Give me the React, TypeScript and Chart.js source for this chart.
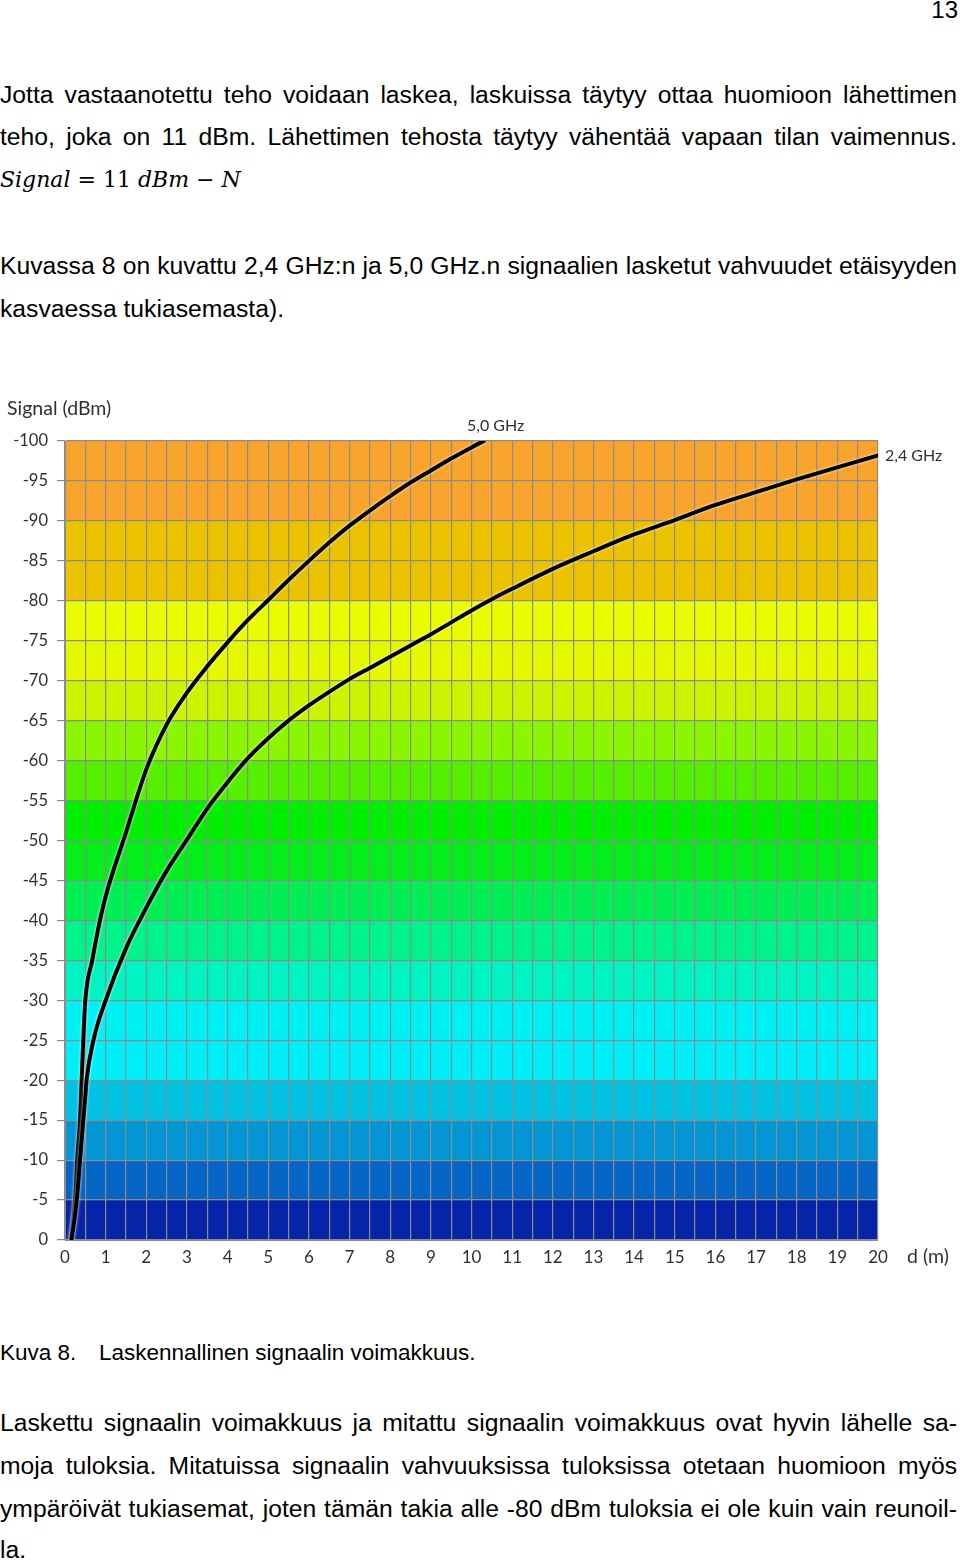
import React, { useEffect, useRef } from 'react';
import { Chart, registerables } from 'chart.js';
Chart.register(...registerables);

// ---- data ----
const distance24 = [0.16, 0.29, 0.37, 0.45, 0.5, 0.53, 0.7, 1.0, 1.5, 2, 2.5, 3, 3.5, 4, 4.5, 5, 5.5, 6, 6.5, 7, 7.5, 8, 8.5, 9, 9.5, 10, 10.5, 11, 12, 13, 14, 15, 16, 17, 18, 19, 20];
const signal24 = [0, -5, -10, -15, -18, -20, -25, -30, -36.5, -41.6, -46.2, -50.1, -54.0, -57.3, -60.3, -62.8, -65.0, -66.9, -68.6, -70.2, -71.6, -73.0, -74.4, -75.8, -77.3, -78.8, -80.2, -81.5, -84.0, -86.2, -88.3, -90.1, -92.0, -93.6, -95.2, -96.7, -98.2];
const distance50 = [0.15, 0.25, 0.3, 0.37, 0.41, 0.45, 0.5, 0.67, 0.86, 1, 1.5, 2, 2.5, 3, 3.5, 4, 4.5, 5, 5.5, 6, 6.5, 7, 7.5, 8, 8.5, 9, 9.5, 10, 10.3];
const signal50 = [0, -5, -10, -15, -20, -25, -30, -35, -40, -43, -51, -58.9, -64.5, -68.5, -71.8, -74.8, -77.6, -80.1, -82.6, -85.0, -87.3, -89.4, -91.3, -93.1, -94.8, -96.3, -97.8, -99.2, -100];
const seriesNames = ['2,4 GHz', '5,0 GHz'];
const xTickLabels = ['0', '1', '2', '3', '4', '5', '6', '7', '8', '9', '10', '11', '12', '13', '14', '15', '16', '17', '18', '19', '20'];
const yTickValues = [-100, -95, -90, -85, -80, -75, -70, -65, -60, -55, -50, -45, -40, -35, -30, -25, -20, -15, -10, -5, 0];
const yTickLabels = ['-100', '-95', '-90', '-85', '-80', '-75', '-70', '-65', '-60', '-55', '-50', '-45', '-40', '-35', '-30', '-25', '-20', '-15', '-10', '-5', '0'];
const bandFrom = [0, -5, -10, -15, -20, -25, -30, -35, -40, -45, -50, -55, -60, -65, -70, -75, -80, -85, -90, -95];
const bandTo = [-5, -10, -15, -20, -25, -30, -35, -40, -45, -50, -55, -60, -65, -70, -75, -80, -85, -90, -95, -100];
const bandColors = ['#0624A8', '#0565C5', '#0395D4', '#03C1E3', '#00EEF7', '#00F1F3', '#00F4C2', '#00F28A', '#00EF52', '#03EE1A', '#00F000', '#55F000', '#8AF600', '#CAF400', '#E4F800', '#E9FD00', '#EBC200', '#EBC200', '#F8A42C', '#F8A42C'];
const yAxisTitle = 'Signal (dBm)';
const xAxisTitle = 'd (m)';

const chartFont = 'Lato, "Open Sans", sans-serif';
const textGray = '#303030';

const bandsPlugin = {
  id: 'bands',
  beforeDraw(chart: any) {
    const { ctx, chartArea, scales } = chart;
    const y = scales.y;
    ctx.save();
    for (let i = 0; i < bandFrom.length; i++) {
      const y1 = y.getPixelForValue(bandFrom[i]);
      const y2 = y.getPixelForValue(bandTo[i]);
      ctx.fillStyle = bandColors[i];
      ctx.fillRect(chartArea.left, Math.min(y1, y2), chartArea.right - chartArea.left, Math.abs(y2 - y1));
    }
    ctx.restore();
  },
};

const haloPlugin = {
  id: 'halo',
  beforeDatasetDraw(chart: any) {
    const ctx = chart.ctx;
    ctx.shadowColor = 'rgba(255,255,255,0.95)';
    ctx.shadowBlur = 3;
  },
  afterDatasetDraw(chart: any) {
    const ctx = chart.ctx;
    ctx.shadowColor = 'rgba(0,0,0,0)';
    ctx.shadowBlur = 0;
  },
};

const textPlugin = {
  id: 'texts',
  afterDraw(chart: any) {
    const { ctx, chartArea } = chart;
    ctx.save();
    ctx.fillStyle = textGray;
    ctx.font = `19.5px ${chartFont}`;
    ctx.textAlign = 'left';
    ctx.textBaseline = 'middle';
    ctx.fillText(yAxisTitle, 7, chartArea.top - 32);
    ctx.font = `19.5px ${chartFont}`;
    ctx.fillText(xAxisTitle, chartArea.right + 29, chartArea.bottom + 17);
    ctx.font = `16px ${chartFont}`;
    const m0 = chart.getDatasetMeta(0);
    const p0 = m0.data[m0.data.length - 1];
    ctx.textAlign = 'left';
    ctx.fillText(seriesNames[0], p0.x + 7, p0.y);
    const m1 = chart.getDatasetMeta(1);
    const p1 = m1.data[m1.data.length - 1];
    ctx.textAlign = 'center';
    ctx.fillText(seriesNames[1], p1.x + 12, p1.y - 15);
    ctx.restore();
  },
};

function ChartCanvas() {
  const ref = useRef<HTMLCanvasElement | null>(null);
  useEffect(() => {
    if (!ref.current) return;
    const chart = new Chart(ref.current, {
      type: 'line',
      data: {
        datasets: [
          {
            label: seriesNames[0],
            data: distance24.map((d, i) => ({ x: d, y: signal24[i] })),
            borderColor: '#000000',
            borderWidth: 4,
            pointRadius: 0,
            cubicInterpolationMode: 'monotone',
            fill: false,
          },
          {
            label: seriesNames[1],
            data: distance50.map((d, i) => ({ x: d, y: signal50[i] })),
            borderColor: '#000000',
            borderWidth: 4,
            pointRadius: 0,
            cubicInterpolationMode: 'monotone',
            fill: false,
          },
        ],
      },
      options: {
        animation: false,
        responsive: false,
        maintainAspectRatio: false,
        layout: { padding: { left: 0, right: 82, top: 51, bottom: 0 } },
        plugins: { legend: { display: false }, tooltip: { enabled: false } },
        elements: { line: { borderCapStyle: 'round', borderJoinStyle: 'round' } },
        scales: {
          x: {
            type: 'linear',
            min: 0,
            max: 20,
            afterFit: (s: any) => { s.height = 30; },
            ticks: {
              stepSize: 0.5,
              autoSkip: false,
              maxRotation: 0,
              padding: 7,
              color: textGray,
              font: { family: chartFont, size: 17 },
              callback: (v: any) => (Number.isInteger(v) ? xTickLabels[v] : ''),
            },
            grid: { color: '#8c8c8c', lineWidth: 1.2, drawTicks: false },
            border: { color: '#8c8c8c' },
          },
          y: {
            type: 'linear',
            min: -100,
            max: 0,
            reverse: true,
            afterFit: (s: any) => { s.width = 65; },
            ticks: {
              stepSize: 5,
              padding: 9,
              color: textGray,
              font: { family: chartFont, size: 16.5 },
              callback: (v: any) => yTickLabels[yTickValues.indexOf(v)],
            },
            grid: { color: '#8c8c8c', lineWidth: 1.2, tickLength: 8 },
            border: { color: '#8c8c8c' },
          },
        },
      },
      plugins: [bandsPlugin, haloPlugin, textPlugin],
    } as any);
    return () => chart.destroy();
  }, []);
  return <canvas ref={ref} width={960} height={880} style={{ position: 'absolute', left: 0, top: 390, width: 960, height: 880 }} />;
}

const bodyFont = '"Liberation Sans", Arial, sans-serif';

function Line({ top, text, justify = true, size = 24.7 }: { top: number; text: string; justify?: boolean; size?: number }) {
  return (
    <div
      style={{
        position: 'absolute',
        left: 0,
        top: top - 15,
        width: 957,
        height: 30,
        lineHeight: '30px',
        fontSize: size,
        fontFamily: bodyFont,
        color: '#000',
        textAlign: justify ? 'justify' : 'left',
        textAlignLast: justify ? 'justify' : 'left',
        overflow: 'visible',
      } as any}
    >
      {text}
    </div>
  );
}

export default function App() {
  return (
    <div style={{ position: 'absolute', left: 0, top: 0, width: 960, height: 1561, background: '#fff', overflow: 'hidden' }}>
      <div style={{ position: 'absolute', right: 2, top: -5, fontSize: 24, lineHeight: '30px', fontFamily: bodyFont, color: '#000' }}>13</div>
      <Line top={95} text="Jotta vastaanotettu teho voidaan laskea, laskuissa täytyy ottaa huomioon lähettimen" />
      <Line top={137} text="teho, joka on 11 dBm. Lähettimen tehosta täytyy vähentää vapaan tilan vaimennus." />
      <div style={{ position: 'absolute', left: 0, top: 180 - 14, height: 28, lineHeight: '28px', fontSize: 22, fontFamily: '"DejaVu Serif", "Liberation Serif", serif', color: '#000', whiteSpace: 'nowrap' }}>
        <i>Signal</i> = 11 <i>dBm</i> − <i>N</i>
      </div>
      <Line top={266} text="Kuvassa 8 on kuvattu 2,4 GHz:n ja 5,0 GHz.n signaalien lasketut vahvuudet etäisyyden" />
      <Line top={309} text="kasvaessa tukiasemasta)." justify={false} />
      <ChartCanvas />
      <div style={{ position: 'absolute', left: 0, top: 1353 - 14, height: 28, lineHeight: '28px', fontSize: 22.5, fontFamily: bodyFont, color: '#000', whiteSpace: 'nowrap' }}>Kuva 8.</div>
      <div style={{ position: 'absolute', left: 99, top: 1353 - 14, height: 28, lineHeight: '28px', fontSize: 22.5, fontFamily: bodyFont, color: '#000', whiteSpace: 'nowrap' }}>Laskennallinen signaalin voimakkuus.</div>
      <Line top={1423} text="Laskettu signaalin voimakkuus ja mitattu signaalin voimakkuus ovat hyvin lähelle sa-" />
      <Line top={1466} text="moja tuloksia. Mitatuissa signaalin vahvuuksissa tuloksissa otetaan huomioon myös" />
      <Line top={1509} text="ympäröivät tukiasemat, joten tämän takia alle -80 dBm tuloksia ei ole kuin vain reunoil-" />
      <Line top={1550} text="la." justify={false} />
    </div>
  );
}
